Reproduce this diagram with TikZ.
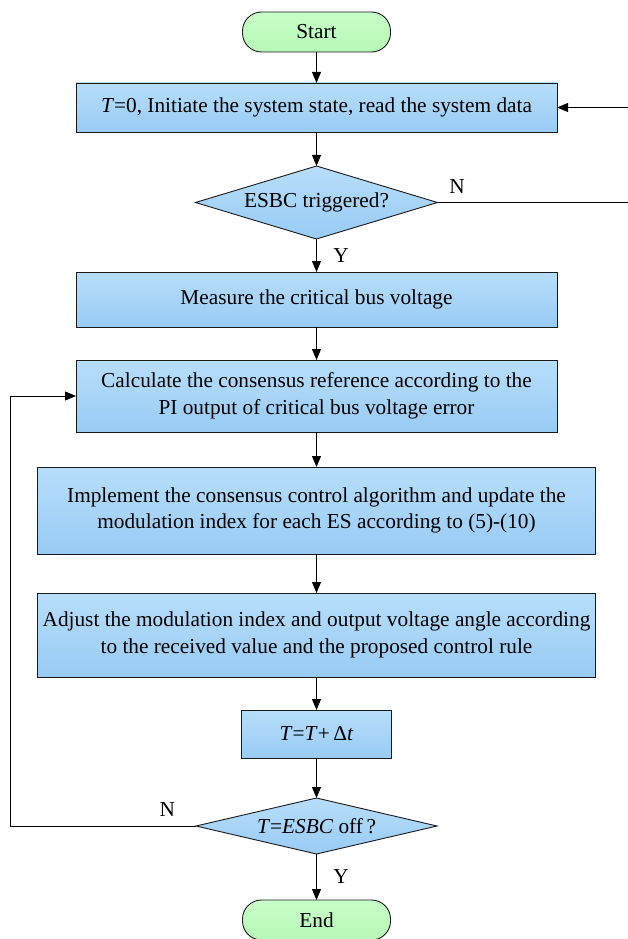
\documentclass[tikz,border=0pt]{standalone}
\usepackage{fontspec}
\setmainfont{Liberation Serif}
\usetikzlibrary{arrows.meta,positioning,shapes.geometric}
\definecolor{boxtop}{HTML}{B7DEFB}
\definecolor{boxbot}{HTML}{98CBF4}
\definecolor{termtop}{HTML}{C8FFC8}
\definecolor{termbot}{HTML}{B6F7B6}
\definecolor{edgegrey}{HTML}{1A1A1A}
\newcommand{\flowfont}{\fontsize{21.3}{26.5}\selectfont}
\tikzset{
  proc/.style       = {draw=edgegrey, line width=0.9pt, top color=boxtop, bottom color=boxbot,
                       align=center, inner sep=2pt, outer sep=0pt},
  decide/.style     = {proc, diamond, aspect=3.3, inner sep=0pt},
  term/.style       = {draw=edgegrey, line width=0.9pt, top color=termtop, bottom color=termbot,
                       rounded corners=19pt, minimum width=148pt, minimum height=40pt, outer sep=0pt},
  sig/.style        = {-{Triangle[length=11pt, width=9pt]}, line width=0.8pt},
  wire/.style       = {line width=0.8pt},
  every node/.style = {font=\flowfont},
  lbl/.style        = {inner sep=1.5pt},
}

\begin{document}
\begin{tikzpicture}[x=1pt, y=-1pt]
  \useasboundingbox (0,0) rectangle (627,939);
  % main column
  \node[term] (start) at (316.5,32) {Start};
  \node[proc, below=31pt of start, minimum width=481pt, minimum height=49pt] (init)
    {\textit{T}=0, Initiate the system state, read the system data};
  \node[decide, below=34pt of init, minimum width=242pt, minimum height=73pt] (trig) {ESBC triggered?};
  \node[proc, below=33pt of trig, minimum width=481pt, minimum height=55pt] (meas)
    {Measure the critical bus voltage};
  \node[proc, below=33pt of meas, minimum width=481pt, minimum height=72pt] (calc)
    {Calculate the consensus reference according to the\\PI output of critical bus voltage error};
  \node[proc, below=35pt of calc, minimum width=558pt, minimum height=87pt] (cons)
    {Implement the consensus control algorithm and update the\\modulation index for each ES according to (5)-(10)};
  \node[proc, below=39pt of cons, minimum width=558pt, minimum height=84pt] (adj)
    {Adjust the modulation index and output voltage angle according\\to the received value and the proposed control rule};
  \node[proc, below=33pt of adj, minimum width=150pt, minimum height=48pt] (tstep)
    {\textit{T}=\textit{T}+\,Δ\textit{t}};
  \node[decide, below=40pt of tstep, aspect=4.3, minimum width=241pt, minimum height=56pt] (off)
    {\textit{T}=\textit{ESBC} off\,?};
  \node[term, below=46pt of off] (end) {End};
  % loop columns
  \coordinate (rx) at (629,0);
  \coordinate (lx) at (10,0);
  % straight arrows
  \draw[sig] (start) -- (init);
  \draw[sig] (init) -- (trig);
  \draw[sig] (trig) -- (meas) node[midway, right=15pt, lbl] (trigy) {Y};
  \draw[sig] (meas) -- (calc);
  \draw[sig] (calc) -- (cons);
  \draw[sig] (cons) -- (adj);
  \draw[sig] (adj) -- (tstep);
  \draw[sig] (tstep) -- (off);
  \draw[sig] (off) -- (end) node[midway, right=15pt, lbl] (offy) {Y};
  % feedback loops
  \draw[sig] (trig.east) -- (trig.east -| rx)
    node[pos=0, anchor=south west, xshift=10pt, yshift=7pt, lbl] (trign) {N} |- (init.east);
  \draw[sig] (off.west) -- (off.west -| lx)
    node[pos=0, anchor=south east, xshift=-19pt, yshift=8pt, lbl] (offn) {N} |- (calc.west);
\end{tikzpicture}
\end{document}
